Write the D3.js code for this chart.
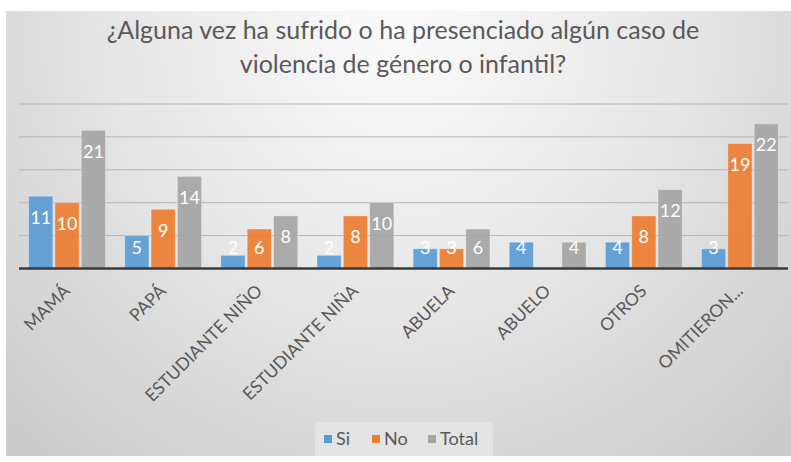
<!DOCTYPE html>
<html lang="es">
<head>
    <meta charset="UTF-8">
    <title>Violencia de género o infantil</title>
    <script src="https://d3js.org/d3.v7.min.js"></script>
    <style>
        body { margin: 0; background: #ffffff; }
        svg { display: block; }
    </style>
</head>
<body>
<script type="text/javascript">
    var categories = ["MAMÁ", "PAPÁ", "ESTUDIANTE NIÑO", "ESTUDIANTE NIÑA", "ABUELA", "ABUELO", "OTROS", "OMITIERON..."];
    var seriesNames = ["Si", "No", "Total"];
    var siValues = [11, 5, 2, 2, 3, 4, 4, 3];
    var noValues = [10, 9, 6, 8, 3, 0, 8, 19];
    var totalValues = [21, 14, 8, 10, 6, 4, 12, 22];
    var gridTicks = [0, 5, 10, 15, 20, 25];
    var titleLines = ["¿Alguna vez ha sufrido o ha presenciado algún caso de", "violencia de género o infantil?"];

    var colors = ["#5b9bd5", "#ed7d31", "#a5a5a5"];
    var font = "Lato, 'Open Sans', sans-serif";
    var svgWidth = 791;
    var svgHeight = 462;

    var table = categories.map(function (c, i) {
        return {cat: c, values: [siValues[i], noValues[i], totalValues[i]]};
    });

    var svg = d3.select("body").append("svg")
        .attr("width", svgWidth)
        .attr("height", svgHeight);

    // background like the office radial gradient
    var defs = svg.append("defs");
    var grad = defs.append("radialGradient")
        .attr("id", "bg")
        .attr("gradientUnits", "userSpaceOnUse")
        .attr("cx", 400).attr("cy", 30)
        .attr("r", 560);
    grad.append("stop").attr("offset", "0%").attr("stop-color", "#fbfbfb");
    grad.append("stop").attr("offset", "45%").attr("stop-color", "#e9e9e9");
    grad.append("stop").attr("offset", "100%").attr("stop-color", "#cbcbcb");

    svg.append("rect")
        .attr("x", 6).attr("y", 11)
        .attr("width", svgWidth - 6).attr("height", 445)
        .attr("fill", "url(#bg)");

    var xScale = d3.scaleBand()
        .domain(categories)
        .range([19, 788])
        .paddingInner(0.2)
        .paddingOuter(0.1);
    var xInner = d3.scaleBand()
        .domain(seriesNames)
        .range([0, xScale.bandwidth()])
        .paddingInner(0.08);
    var yScale = d3.scaleLinear()
        .domain([0, 25])
        .range([268.5, 104]);

    // gridlines
    svg.append("g")
        .selectAll("line")
        .data(gridTicks.slice(1))
        .enter()
        .append("line")
        .attr("x1", 19).attr("x2", 788)
        .attr("y1", function (d) { return yScale(d); })
        .attr("y2", function (d) { return yScale(d); })
        .attr("stroke", "#b4b4b4")
        .attr("stroke-width", 1);

    // bars
    var groups = svg.append("g")
        .selectAll("g")
        .data(table)
        .enter()
        .append("g")
        .attr("transform", function (d) { return "translate(" + xScale(d.cat) + ",0)"; });

    groups.selectAll("rect")
        .data(function (d) { return d.values.map(function (v, i) { return {s: seriesNames[i], v: v, i: i}; }); })
        .enter()
        .append("rect")
        .attr("x", function (d) { return xInner(d.s); })
        .attr("y", function (d) { return yScale(d.v); })
        .attr("width", xInner.bandwidth())
        .attr("height", function (d) { return yScale(0) - yScale(d.v); })
        .attr("fill", function (d) { return colors[d.i]; })
        .attr("fill-opacity", 0.92)
        .attr("stroke", "#ffffff")
        .attr("stroke-opacity", 0.35)
        .attr("stroke-width", 1);

    groups.selectAll("text")
        .data(function (d) { return d.values.map(function (v, i) { return {s: seriesNames[i], v: v, i: i}; }).filter(function (d) { return d.v > 0; }); })
        .enter()
        .append("text")
        .text(function (d) { return d.v; })
        .attr("x", function (d) { return xInner(d.s) + xInner.bandwidth() / 2; })
        .attr("y", function (d) { return Math.min(yScale(d.v) + 21, 247) + 6.5; })
        .attr("text-anchor", "middle")
        .attr("font-family", font)
        .attr("font-size", "18px")
        .attr("fill", "#ffffff");

    // axis line
    svg.append("line")
        .attr("x1", 19).attr("x2", 788)
        .attr("y1", yScale(0)).attr("y2", yScale(0))
        .attr("stroke", "#3a3a3a")
        .attr("stroke-width", 2.5);

    // category labels
    svg.append("g")
        .selectAll("text")
        .data(categories)
        .enter()
        .append("text")
        .text(function (d) { return d; })
        .attr("transform", function (d) {
            return "translate(" + (xScale(d) + xScale.bandwidth() / 2 + 4) + ",292) rotate(-45)";
        })
        .attr("text-anchor", "end")
        .attr("font-family", font)
        .attr("font-size", "17.5px")
        .attr("fill", "#595959");

    // title
    svg.append("g")
        .selectAll("text")
        .data(titleLines)
        .enter()
        .append("text")
        .text(function (d) { return d; })
        .attr("x", 403)
        .attr("y", function (d, i) { return 39 + i * 34; })
        .attr("text-anchor", "middle")
        .attr("font-family", font)
        .attr("font-size", "25px")
        .attr("fill", "#595959");

    // legend
    var legend = svg.append("g");
    legend.append("rect")
        .attr("x", 315).attr("y", 422)
        .attr("width", 178).attr("height", 34)
        .attr("fill", "#e4e4e4");
    var legendX = [324, 372, 428];
    var items = legend.selectAll("g.item")
        .data(seriesNames)
        .enter()
        .append("g")
        .attr("class", "item")
        .attr("transform", function (d, i) { return "translate(" + legendX[i] + ",0)"; });
    items.append("rect")
        .attr("x", 0).attr("y", 435)
        .attr("width", 8).attr("height", 8)
        .attr("fill", function (d, i) { return colors[i]; });
    items.append("text")
        .text(function (d) { return d; })
        .attr("x", 12)
        .attr("y", 445)
        .attr("font-family", font)
        .attr("font-size", "18px")
        .attr("fill", "#595959");
</script>
</body>
</html>
